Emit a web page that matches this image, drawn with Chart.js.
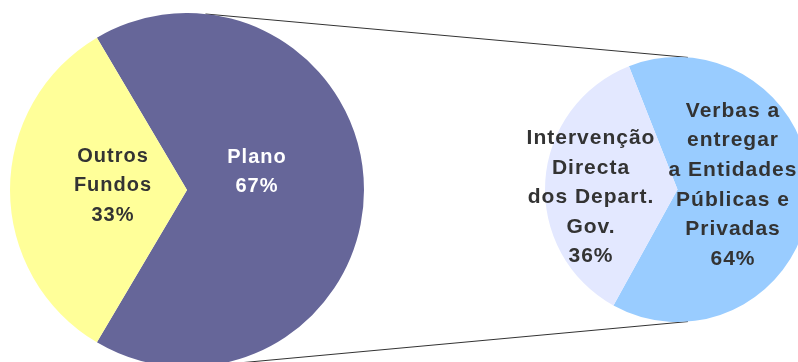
<!DOCTYPE html>
<html>
<head>
<meta charset="utf-8">
<script src="https://cdn.jsdelivr.net/npm/chart.js@4"></script>
<style>
html, body { margin: 0; padding: 0; overflow: hidden; background: #fff; }
#wrap { position: relative; width: 798px; height: 362px; overflow: hidden; }
#wrap canvas { position: absolute; }
#links { left: 0; top: 0; }
#mainPie { left: 10px; top: 13px; }
#subPie { left: 505px; top: 57px; }
</style>
</head>
<body>
<div id="wrap">
  <canvas id="links" width="798" height="362"></canvas>
  <canvas id="mainPie" width="354" height="354"></canvas>
  <canvas id="subPie" width="305" height="265"></canvas>
</div>
<script>
// origem dos fundos
const mainLabels = ['Plano', ['Outros', 'Fundos']];
const mainValues = [67, 33];
const mainColors = ['#666699', '#FFFF99'];

// desagregação do Plano
const subLabels = [['Verbas a', 'entregar', 'a Entidades', 'Públicas e', 'Privadas'], ['Intervenção', 'Directa', 'dos Depart.', 'Gov.']];
const subValues = [64, 36];
const subColors = ['#99CCFF', '#E3E8FF'];

// texto dentro de cada fatia: nome + percentagem
const sliceLabels = {
    id: 'sliceLabels',
    afterDatasetsDraw(chart, args, opts) {
        const ctx = chart.ctx;
        const ds = chart.data.datasets[0];
        const total = ds.data.reduce((a, b) => a + b, 0);
        ctx.save();
        ctx.font = 'bold ' + opts.size + 'px "Liberation Sans", Arial, sans-serif';
        ctx.letterSpacing = '1px';
        ctx.textAlign = 'center';
        ctx.textBaseline = 'middle';
        chart.getDatasetMeta(0).data.forEach((arc, i) => {
            const lines = [].concat(chart.data.labels[i], Math.round(ds.data[i] / total * 100) + '%');
            const cx = arc.x + opts.offsets[i][0];
            const cy = arc.y + opts.offsets[i][1];
            ctx.fillStyle = opts.colors[i];
            lines.forEach((t, k) => {
                ctx.fillText(t, cx, cy + (k - (lines.length - 1) / 2) * opts.lineHeight);
            });
        });
        ctx.restore();
    }
};

function pieOptions(rotation, padding, labelOpts) {
    return {
        responsive: false,
        animation: false,
        rotation: rotation,
        events: [],
        layout: {padding: padding},
        plugins: {
            legend: {display: false},
            tooltip: {enabled: false},
            sliceLabels: labelOpts
        }
    };
}

const mainChart = new Chart(document.getElementById('mainPie'), {
    type: 'pie',
    data: {
        labels: mainLabels,
        datasets: [{data: mainValues, backgroundColor: mainColors, borderWidth: 0}]
    },
    options: pieOptions(-30.6, 0, {
        offsets: [[70, -18], [-74, -4.5]],
        colors: ['#FFFFFF', '#333333'],
        size: 20,
        lineHeight: 29.5
    }),
    plugins: [sliceLabels]
});

const subChart = new Chart(document.getElementById('subPie'), {
    type: 'pie',
    data: {
        labels: subLabels,
        datasets: [{data: subValues, backgroundColor: subColors, borderWidth: 0}]
    },
    options: pieOptions(-21.5, {left: 40}, {
        offsets: [[55.5, -4.5], [-86.5, 8]],
        colors: ['#333333', '#333333'],
        size: 21,
        lineHeight: 29.6
    }),
    plugins: [sliceLabels]
});

// linhas de ligação entre as duas tartes
function drawLinks() {
    const canvas = document.getElementById('links');
    const ctx = canvas.getContext('2d');
    const a = mainChart.getDatasetMeta(0).data[0];
    const b = subChart.getDatasetMeta(0).data[0];
    const ax = mainChart.canvas.offsetLeft + a.x, ay = mainChart.canvas.offsetTop + a.y;
    const bx = subChart.canvas.offsetLeft + b.x, by = subChart.canvas.offsetTop + b.y;
    const ta = 6 * Math.PI / 180, tb = 4.5 * Math.PI / 180;
    ctx.strokeStyle = '#333333';
    ctx.lineWidth = 1;
    [-1, 1].forEach(s => {
        ctx.beginPath();
        ctx.moveTo(ax + a.outerRadius * Math.sin(ta), ay + s * a.outerRadius * Math.cos(ta));
        ctx.lineTo(bx + b.outerRadius * Math.sin(tb), by + s * b.outerRadius * Math.cos(tb));
        ctx.stroke();
    });
}
drawLinks();
</script>
</body>
</html>
